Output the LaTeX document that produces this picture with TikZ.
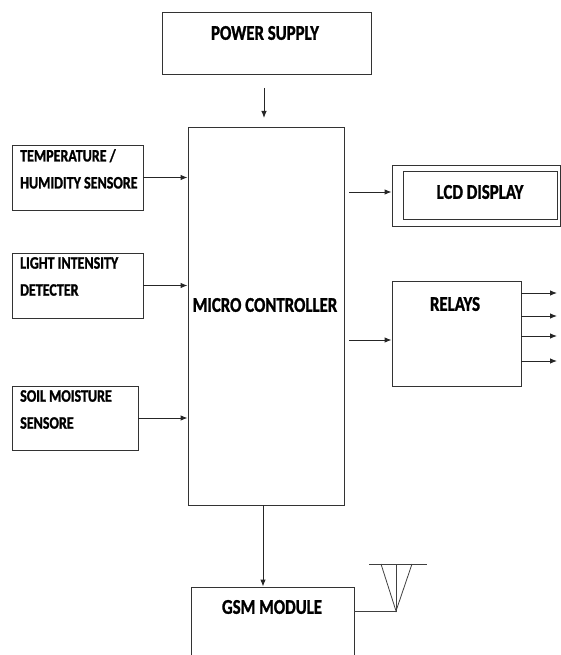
\documentclass[tikz,border=0pt]{standalone}
\usepackage{fontspec}
\setmainfont{Carlito}[FakeStretch=0.8, BoldFeatures={FakeBold=1.2}]
\usetikzlibrary{arrows.meta}
\tikzset{
  blk/.style={draw=black!80, line width=0.9pt, rectangle, inner sep=0pt},
  big/.style={font=\bfseries\fontsize{21}{22}\selectfont},
  small/.style={font=\bfseries\fontsize{17.5}{27}\selectfont, align=left, anchor=north west, inner sep=0pt},
  conn/.style={line width=0.9pt, draw=black!85, -{Latex[length=7pt,width=5.5pt]}},
  wire/.style={line width=0.8pt, draw=black!75}
}
\begin{document}
\begin{tikzpicture}[x=1pt,y=-1pt]
\useasboundingbox (0,0) rectangle (561,655);

% blocks
\node [blk, minimum width=209pt, minimum height=62pt](ps) at (266.5,43) {};
\node [blk, minimum width=156pt, minimum height=378pt](mc) at (266,316) {};
\node [blk, minimum width=131pt, minimum height=65pt](temp) at (77.5,177.5) {};
\node [blk, minimum width=131pt, minimum height=65pt](light) at (77.5,285.5) {};
\node [blk, minimum width=126pt, minimum height=64pt](soil) at (75,418) {};
\node [blk, minimum width=168pt, minimum height=61pt](lcdo) at (476,195.5) {};
\node [blk, minimum width=154pt, minimum height=48pt](lcdi) at (480,195) {};
\node [blk, minimum width=129pt, minimum height=105pt](relays) at (456.5,333.5) {};
\node [blk, minimum width=163pt, minimum height=90pt](gsm) at (272.5,632) {};

% texts
\node [big](pst) at (265,33) {POWER SUPPLY};
\node [big](mct) at (265,305) {MICRO CONTROLLER};
\node [big](lcdt) at (480,192) {LCD DISPLAY};
\node [big](relt) at (455,304) {RELAYS};
\node [big](gsmt) at (272,607) {GSM MODULE};
\node [small](tempt) at (20,149) {TEMPERATURE /\\HUMIDITY SENSORE};
\node [small](lightt) at (20,257) {LIGHT INTENSITY\\DETECTER};
\node [small](soilt) at (20,390) {SOIL MOISTURE\\SENSORE};

% connectors
\coordinate (psout) at (264,88);
\coordinate (mcin) at (264,118);
\draw [conn] (psout) -- (mcin);
\draw [conn] (temp.east) -- (temp.east -| mc.west);
\draw [conn] (light.east) -- (light.east -| mc.west);
\draw [conn] (soil.east) -- (soil.east -| mc.west);
\coordinate (mcr) at (349,316);
\draw [conn] (mcr |- 0,192) -- (lcdo.west |- 0,192);
\draw [conn] (mcr |- 0,340) -- (relays.west |- 0,340);
\foreach \y [count=\i] in {293,316,336,361}{
  \coordinate (rout\i) at (557,\y);
  \draw [conn] (relays.east |- rout\i) -- (rout\i);
}
\draw [conn] (mc.south -| 263,0) -- (gsm.north -| 263,0);

% antenna
\coordinate (ant) at (396,611);
\coordinate (anttop) at (396,564);
\draw [wire] (gsm.east |- ant) -- (ant) -- (anttop);
\draw [wire] (369,564) -- (427,564);
\draw [wire] (381,564) -- (ant) -- (412,564);
\end{tikzpicture}
\end{document}
